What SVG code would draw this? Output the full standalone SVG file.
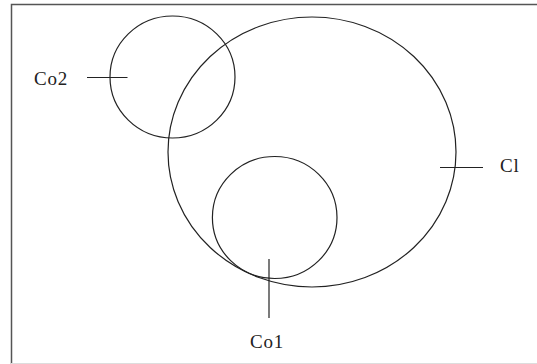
<svg xmlns="http://www.w3.org/2000/svg" width="537" height="364" viewBox="0 0 537 364">
<style>
.shape{fill:none;stroke:#222;stroke-width:1.2}
.tick{stroke:#222;stroke-width:1.2}
.lbl{font-family:"Liberation Serif","Times New Roman",serif;font-size:19px;letter-spacing:0.8px;fill:#222}
</style>
<rect width="537" height="364" fill="#fff"/>
<path d="M11.5,364 V4.5 H537" fill="none" stroke="#555" stroke-width="1.5"/>
<line x1="11" y1="363.5" x2="537" y2="363.5" stroke="#ddd" stroke-width="1"/>
<g id="Cl">
<ellipse class="shape" cx="312" cy="152" rx="144" ry="135"/>
<text class="lbl" x="500" y="172">Cl</text>
</g>
<g id="Co2">
<ellipse class="shape" cx="172.5" cy="77" rx="62.5" ry="61"/>
<text class="lbl" x="34" y="85">Co2</text>
</g>
<g id="Co1">
<ellipse class="shape" cx="274.7" cy="217.5" rx="62.3" ry="61"/>
<text class="lbl" x="250" y="348">Co1</text>
</g>
<g id="connectors">
<line class="tick" x1="87" y1="77.5" x2="127.5" y2="77.5"/>
<line class="tick" x1="440" y1="167.5" x2="483" y2="167.5"/>
<line class="tick" x1="269" y1="259" x2="269" y2="318"/>
</g>
</svg>
